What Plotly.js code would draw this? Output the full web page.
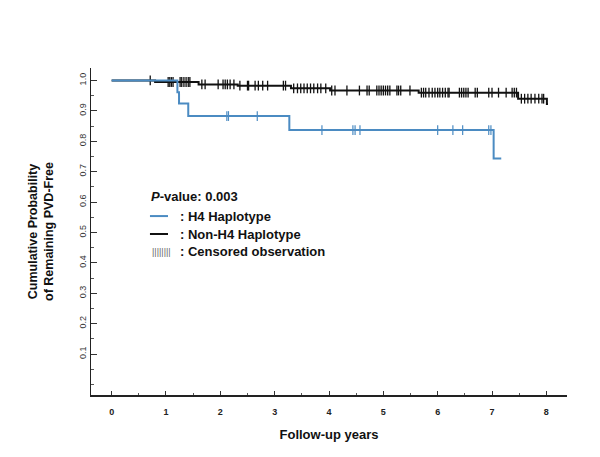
<!DOCTYPE html>
<html><head><meta charset="utf-8">
<script src="https://cdn.plot.ly/plotly-3.0.1.min.js"></script>
<style>html,body{margin:0;padding:0;background:#fff}#chart{width:600px;height:457px}</style>
</head><body><div id="chart"></div>
<script>
// Kaplan-Meier step data (years, survival)
const h4Times = [0, 1.21, 1.24, 1.41, 3.27, 7.03, 7.17];
const h4Surv  = [1.0, 0.961, 0.924, 0.883, 0.837, 0.743, 0.743];
const h4Censor = [2.12, 2.15, 2.68, 3.87, 4.44, 4.48, 4.57, 6.0, 6.28, 6.46, 6.94, 6.98];

const nonTimes = [0, 0.8, 1.6, 2.32, 3.30, 4.02, 5.65, 7.48, 8.01, 8.03];
const nonSurv  = [1.0, 0.995, 0.987, 0.983, 0.974, 0.967, 0.96, 0.94, 0.923, 0.923];
const nonCensor = [0.71, 1.04, 1.07, 1.10, 1.13, 1.26, 1.29, 1.33, 1.37, 1.41, 1.44, 1.66, 1.72, 1.96,
  2.05, 2.09, 2.13, 2.18, 2.25, 2.36, 2.50, 2.52, 2.64, 2.70, 2.78, 2.87, 3.16, 3.20,
  3.35, 3.42, 3.48, 3.54, 3.60, 3.66, 3.72, 3.79, 3.85, 3.94, 4.05, 4.11, 4.33, 4.56, 4.70, 4.74,
  4.88, 4.92, 4.96, 5.00, 5.04, 5.08, 5.12, 5.25, 5.28, 5.32, 5.49,
  5.70, 5.74, 5.78, 5.84, 5.90, 5.95, 6.00, 6.04, 6.09, 6.14, 6.19, 6.21, 6.40, 6.44, 6.48, 6.52, 6.56,
  6.69, 6.73, 6.94, 7.00, 7.12, 7.26, 7.37, 7.41, 7.45, 7.54, 7.60, 7.66, 7.72, 7.79, 7.86, 7.92, 7.95];

const xTicks = [0, 1, 2, 3, 4, 5, 6, 7, 8];
const yTicks = [0.1, 0.2, 0.3, 0.4, 0.5, 0.6, 0.7, 0.8, 0.9, 1.0];
const yTickText = ['0.1','0.2','0.3','0.4','0.5','0.6','0.7','0.8','0.9','1.0'];

const blue = '#4b8bc2';
const black = '#111111';

function stepAt(times, surv, t) {
  let v = surv[0];
  for (let i = 0; i < times.length; i++) { if (times[i] <= t) v = surv[i]; }
  return v;
}

const traces = [
  {x: nonTimes, y: nonSurv, mode: 'lines', line: {shape: 'hv', color: black, width: 2}, hoverinfo: 'skip'},
  {x: nonCensor, y: nonCensor.map(t => stepAt(nonTimes, nonSurv, t)), mode: 'markers',
   marker: {symbol: 'line-ns-open', size: 7, color: black, line: {color: black, width: 1.3}}, hoverinfo: 'skip'},
  {x: h4Times, y: h4Surv, mode: 'lines', line: {shape: 'hv', color: blue, width: 2}, hoverinfo: 'skip'},
  {x: h4Censor, y: h4Censor.map(t => stepAt(h4Times, h4Surv, t)), mode: 'markers',
   marker: {symbol: 'line-ns-open', size: 7, color: blue, line: {color: blue, width: 1.2}}, hoverinfo: 'skip'}
];

const F = 'Liberation Sans, Arial, sans-serif';
const LF = {family: F, size: 13, color: '#111', weight: 'bold'};
const layout = {
  width: 600, height: 457,
  margin: {l: 91, r: 33, t: 68, b: 62},
  paper_bgcolor: '#fff', plot_bgcolor: '#fff',
  showlegend: false,
  font: {family: F, color: '#222'},
  xaxis: {
    range: [-0.38, 8.38], showgrid: false, zeroline: false,
    showline: true, linecolor: '#222', linewidth: 1.5,
    tickmode: 'array', tickvals: xTicks, ticktext: xTicks.map(String),
    ticks: 'inside', ticklen: 4, tickcolor: '#333', tickwidth: 1,
    minor: {dtick: 0.5, ticks: 'inside', ticklen: 2, tickcolor: '#555'},
    tickfont: {family: F, size: 9, color: '#222', weight: 'bold'},
    ticklabelstandoff: 8,
    title: {text: 'Follow-up years', font: {family: F, size: 13, color: '#111', weight: 'bold'}, standoff: 13}
  },
  yaxis: {
    range: [-0.0345, 1.041], showgrid: false, zeroline: false,
    showline: true, linecolor: '#222', linewidth: 1.5,
    tickmode: 'array', tickvals: yTicks, ticktext: yTickText,
    ticks: 'inside', ticklen: 6, tickcolor: '#333', tickwidth: 1,
    minor: {tickmode: 'array', tickvals: [0, 0.05, 0.15, 0.25, 0.35, 0.45, 0.55, 0.65, 0.75, 0.85, 0.95], ticks: 'inside', ticklen: 3, tickcolor: '#555'},
    tickangle: -90,
    tickfont: {family: F, size: 9, color: '#333'},
    title: {text: 'Cumulative Probability<br>of Remaining PVD-Free', font: {family: F, size: 12.5, color: '#111', weight: 'bold'}, standoff: 21}
  },
  shapes: [
    {type: 'line', xref: 'x', yref: 'y', x0: 0.705, x1: 1.037, y0: 0.554, y1: 0.554, line: {color: blue, width: 2}},
    {type: 'line', xref: 'x', yref: 'y', x0: 0.705, x1: 1.037, y0: 0.495, y1: 0.495, line: {color: black, width: 2}}
  ],
  annotations: [
    {xref: 'x', yref: 'y', x: 0.687, y: 0.617, xanchor: 'left', yanchor: 'middle', showarrow: false,
     text: '<i>P</i>-value: 0.003', font: LF},
    {xref: 'x', yref: 'y', x: 1.23, y: 0.554, xanchor: 'left', yanchor: 'middle', showarrow: false,
     text: ': H4 Haplotype', font: LF},
    {xref: 'x', yref: 'y', x: 1.23, y: 0.495, xanchor: 'left', yanchor: 'middle', showarrow: false,
     text: ': Non-H4 Haplotype', font: LF},
    {xref: 'x', yref: 'y', x: 0.70, y: 0.436, xanchor: 'left', yanchor: 'middle', showarrow: false,
     text: '||||||||', font: {family: F, size: 9, color: '#666'}},
    {xref: 'x', yref: 'y', x: 1.23, y: 0.436, xanchor: 'left', yanchor: 'middle', showarrow: false,
     text: ': Censored observation', font: LF}
  ]
};

Plotly.newPlot('chart', traces, layout, {displayModeBar: false, staticPlot: true});
</script>
</body></html>
